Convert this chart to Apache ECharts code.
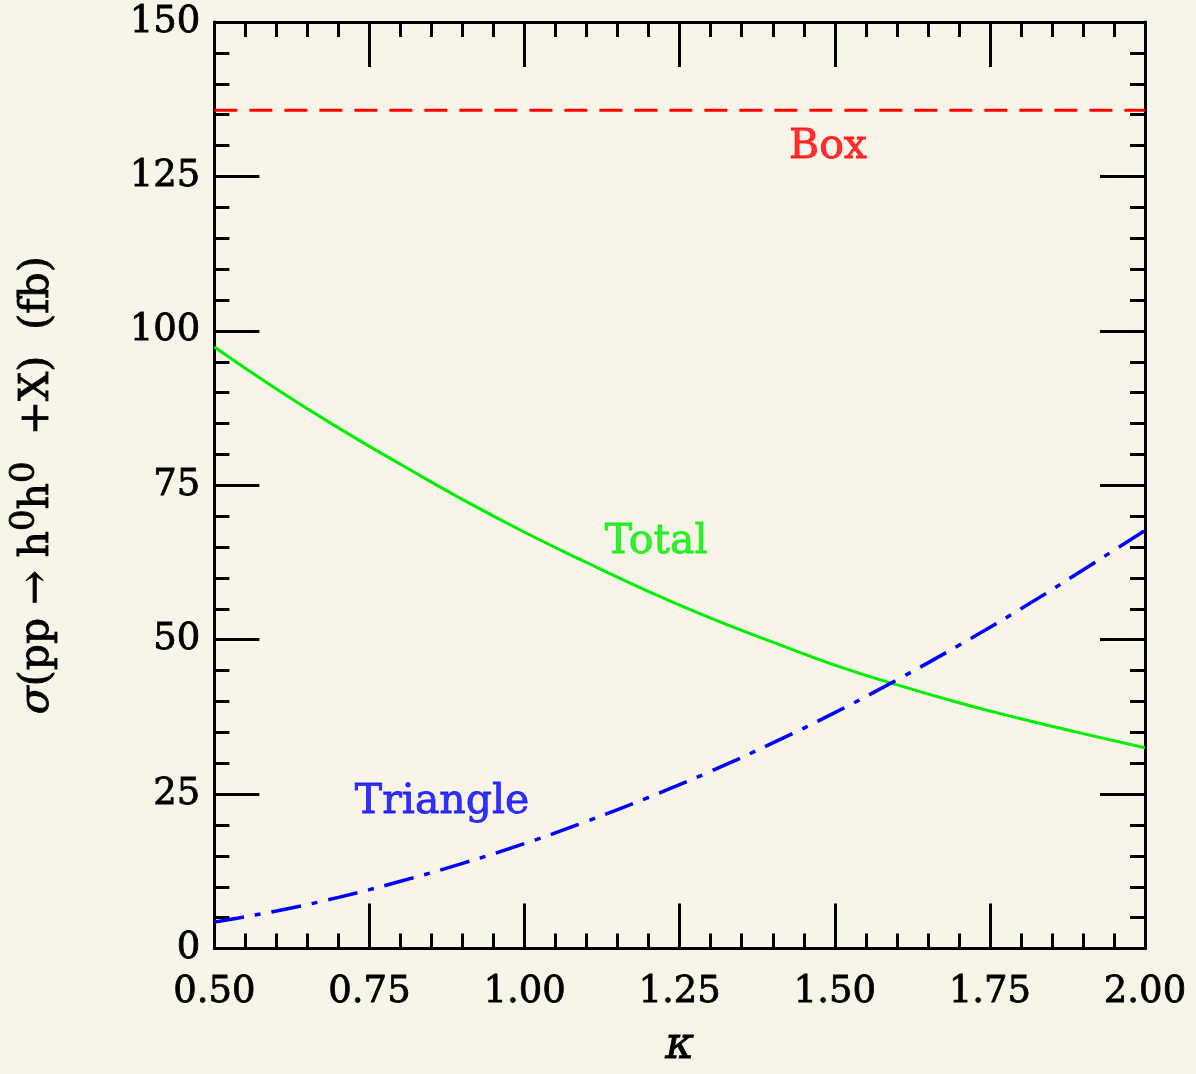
<!DOCTYPE html>
<html>
<head>
<meta charset="utf-8">
<script src="https://cdn.jsdelivr.net/npm/echarts@6/dist/echarts.min.js"></script>
<style>
  html, body { margin: 0; padding: 0; background: #f8f4e8; }
  #chart { width: 1196px; height: 1074px; }
</style>
</head>
<body>
<div id="chart"></div>
<script>
// kappa values (x) and cross sections (fb)
const kappa = [0.5, 0.6, 0.7, 0.8, 0.9, 1.0, 1.1, 1.2, 1.3, 1.4, 1.5, 1.6, 1.7, 1.8, 1.9, 2.0]
const totalXs = [97.4, 90.6, 84.3, 78.4, 72.7, 67.4, 62.5, 57.8, 53.5, 49.6, 45.9, 42.7, 39.8, 37.2, 34.8, 32.5]
const triangleXs = [4.3, 6.1, 8.3, 10.9, 13.8, 17.0, 20.6, 24.5, 28.7, 33.3, 38.2, 43.5, 49.1, 55.0, 61.3, 67.7]
const boxXs = [135.7, 135.7]
const boxKappa = [0.5, 2.0]

// curve labels: name, kappa, sigma
const labelNames = ["Box", "Total", "Triangle"]
const labelKappa = [1.489, 1.212, 0.867]
const labelSigma = [129.7, 65.7, 23.7]
const labelColors = ["#ff0000", "#00ee00", "#0000ff"]

const font = "DejaVu Serif"

const pairs = (xs, ys) => xs.map((x, i) => [x, ys[i]])

const chart = echarts.init(document.getElementById("chart"))

const tickStyle = { color: "#000", width: 3 }

// thicker strokes on text, the original uses a heavy font
const heavy = (c, w) => ({ textBorderColor: c, textBorderWidth: w })

function xAxisCfg(pos, showLabel) {
  return {
    type: "value",
    position: pos,
    min: 0.5,
    max: 2.0,
    interval: 0.25,
    axisLine: { show: true, onZero: false, lineStyle: { color: "#000", width: 3 } },
    axisTick: { show: true, inside: true, length: 45, lineStyle: tickStyle },
    minorTick: { show: true, splitNumber: 5, length: 15, lineStyle: tickStyle },
    splitLine: { show: false },
    axisLabel: {
      show: showLabel,
      margin: 25,
      color: "#000",
      fontFamily: font,
      fontSize: 37,
      ...heavy("#000", 0.8),
      formatter: (v) => v.toFixed(2)
    }
  }
}

function yAxisCfg(pos, showLabel) {
  return {
    type: "value",
    position: pos,
    min: 0,
    max: 150,
    interval: 25,
    axisLine: { show: true, onZero: false, lineStyle: { color: "#000", width: 3 } },
    axisTick: { show: true, inside: true, length: 45, lineStyle: tickStyle },
    minorTick: { show: true, splitNumber: 5, length: 15, lineStyle: tickStyle },
    splitLine: { show: false },
    axisLabel: {
      show: showLabel,
      margin: 14,
      color: "#000",
      fontFamily: font,
      fontSize: 37,
      ...heavy("#000", 0.8)
    }
  }
}

const xBottom = xAxisCfg("bottom", true)
xBottom.name = "κ"
xBottom.nameLocation = "middle"
xBottom.nameGap = 76
xBottom.nameTextStyle = { color: "#000", fontFamily: font, fontSize: 44, fontStyle: "italic", ...heavy("#000", 0.8) }

const yLeft = yAxisCfg("left", true)
yLeft.name = "{it|σ}(pp → h{sup|0}h{sup|0}  +X)  (fb)"
yLeft.nameLocation = "middle"
yLeft.nameGap = 148
yLeft.nameTextStyle = {
  color: "#000",
  fontFamily: font,
  fontSize: 41,
  ...heavy("#000", 0.8),
  rich: {
    it: { fontFamily: font, fontSize: 41, fontStyle: "italic", color: "#000", ...heavy("#000", 0.8) },
    sup: { fontFamily: font, fontSize: 34, color: "#000", padding: [0, 0, 24, 0], ...heavy("#000", 0.8) }
  }
}

const labelData = labelNames.map((n, i) => ({
  value: [labelKappa[i], labelSigma[i]],
  label: {
    show: true,
    position: "inside",
    formatter: n,
    color: labelColors[i],
    fontFamily: font,
    fontSize: 41,
    ...heavy(labelColors[i], 0.8)
  }
}))

chart.setOption({
  backgroundColor: "#f8f4e8",
  animation: false,
  grid: { left: 212, right: 51, top: 22, bottom: 121, containLabel: false },
  xAxis: [xBottom, xAxisCfg("top", false)],
  yAxis: [yLeft, yAxisCfg("right", false)],
  series: [
    {
      name: "Box",
      type: "line",
      data: pairs(boxKappa, boxXs),
      symbol: "none",
      lineStyle: { color: "#ff0000", width: 3, type: [23, 12] }
    },
    {
      name: "Total",
      type: "line",
      data: pairs(kappa, totalXs),
      symbol: "none",
      smooth: true,
      lineStyle: { color: "#00ee00", width: 3, type: "solid" }
    },
    {
      name: "Triangle",
      type: "line",
      data: pairs(kappa, triangleXs),
      symbol: "none",
      smooth: true,
      lineStyle: { color: "#0000ff", width: 3.5, type: [30, 11, 6, 11] }
    },
    {
      name: "labels",
      type: "scatter",
      symbolSize: 0,
      data: labelData,
      silent: true
    }
  ]
})
</script>
</body>
</html>
